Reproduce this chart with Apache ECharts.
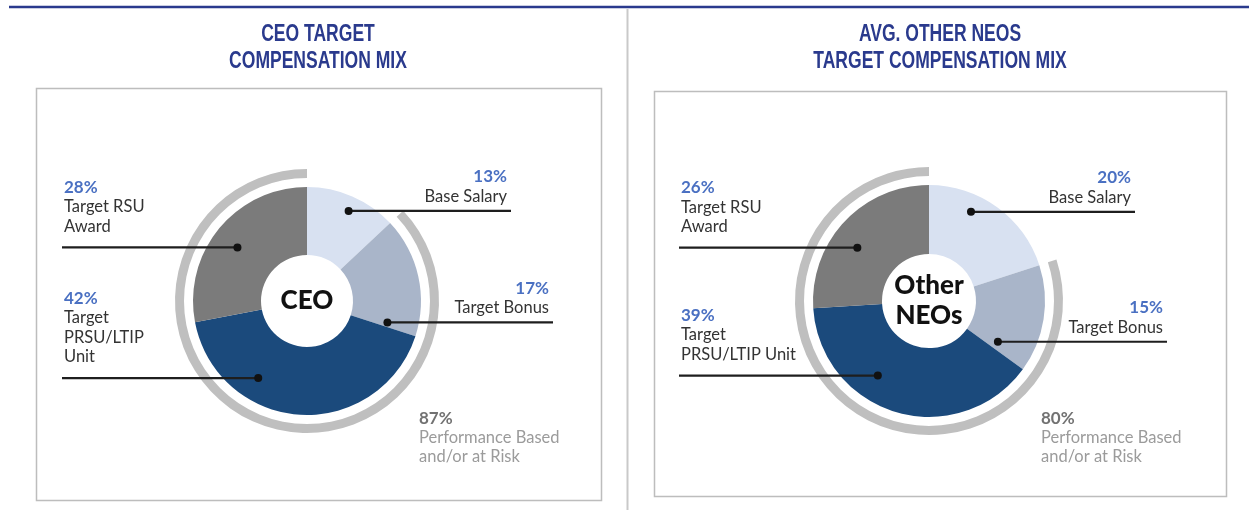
<!DOCTYPE html>
<html>
<head>
<meta charset="utf-8">
<title>Target Compensation Mix</title>
<script src="https://cdn.jsdelivr.net/npm/echarts@6/dist/echarts.min.js"></script>
<style>
  html, body { margin: 0; padding: 0; background: #ffffff; }
  #chart { width: 1249px; height: 510px; }
</style>
</head>
<body>
<div id="chart"></div>
<script>
// ---- data -------------------------------------------------------------
const components = ['Base Salary', 'Target Bonus', 'Target PRSU/LTIP Unit', 'Target RSU Award'];
const ceoMix = [13, 17, 42, 28];          // % of CEO target pay
const neoMix = [20, 15, 39, 26];          // % of average other NEO target pay
const ceoAtRisk = 87;                      // performance based and/or at risk
const neoAtRisk = 80;
// callout wording (line breaks as set in each panel)
const ceoNames = [['Base Salary'], ['Target Bonus'], ['Target', 'PRSU/LTIP', 'Unit'], ['Target RSU', 'Award']];
const neoNames = [['Base Salary'], ['Target Bonus'], ['Target', 'PRSU/LTIP Unit'], ['Target RSU', 'Award']];
const atRiskNames = ['Performance Based', 'and/or at Risk'];
const panelTitles = [['CEO TARGET', 'COMPENSATION MIX'], ['AVG. OTHER NEOS', 'TARGET COMPENSATION MIX']];
const centerLabels = [['CEO'], ['Other', 'NEOs']];

// ---- look -------------------------------------------------------------
const sliceColors = ['#d8e1f1', '#a9b5c9', '#1b4a7c', '#7b7b7b'];
const ringColor = '#bfbfbf';
const navy = '#2a3a8d';
const pctBlue = '#4a70c2';

// pie geometry per panel
const panels = [
  { center: [307, 301], radius: [46, 114], ring: [123, 132], box: [36, 88, 565, 412], titleX: 318 },
  { center: [929, 301], radius: [47, 116], ring: [125, 134], box: [654, 91, 572, 405], titleX: 940 }
];
// callout placement: side of the label, dot position inside the slice
// (fraction along the arc, fraction of the outer radius) and how far the
// leader line runs horizontally from the pie centre
const callouts = [
  [
    { side: 'right', along: 0.53, depth: 0.87, reach: 204 },
    { side: 'right', along: 0.95, depth: 0.73, reach: 246 },
    { side: 'left',  along: 0.69, depth: 0.80, reach: 245 },
    { side: 'left',  along: 0.48, depth: 0.77, reach: 245 }
  ],
  [
    { side: 'right', along: 0.35, depth: 0.85, reach: 206 },
    { side: 'right', along: 0.90, depth: 0.69, reach: 238 },
    { side: 'left',  along: 0.63, depth: 0.78, reach: 250 },
    { side: 'left',  along: 0.43, depth: 0.77, reach: 250 }
  ]
];
const atRiskOffset = [112, 118];

const chart = echarts.init(document.getElementById('chart'), null, { renderer: 'canvas' });

function mixSeries(panel, values) {
  return {
    type: 'pie', silent: true, animation: false,
    center: panel.center, radius: panel.radius,
    startAngle: 90, clockwise: true,
    label: { show: false }, labelLine: { show: false },
    itemStyle: { borderWidth: 0 },
    data: values.map((v, i) => ({ name: components[i], value: v, itemStyle: { color: sliceColors[i] } }))
  };
}
function ringSeries(panel, atRisk) {
  return {
    type: 'pie', silent: true, animation: false,
    center: panel.center, radius: panel.ring,
    startAngle: 90, clockwise: true,
    label: { show: false }, labelLine: { show: false },
    data: [
      { name: 'fixed', value: 100 - atRisk, itemStyle: { color: 'rgba(0,0,0,0)' } },
      { name: 'at risk', value: atRisk, itemStyle: { color: ringColor } }
    ]
  };
}

chart.setOption({
  backgroundColor: '#ffffff',
  animation: false,
  series: [
    mixSeries(panels[0], ceoMix), ringSeries(panels[0], ceoAtRisk),
    mixSeries(panels[1], neoMix), ringSeries(panels[1], neoAtRisk)
  ]
});

// slice geometry as laid out by the pie series
function sliceGeometry(seriesIndex, values, panel) {
  try {
    const data = chart.getModel().getSeriesByIndex(seriesIndex).getData();
    return values.map((v, i) => {
      const l = data.getItemLayout(i);
      return { cx: l.cx, cy: l.cy, r: l.r, a0: l.startAngle, a1: l.endAngle };
    });
  } catch (e) {
    const total = values.reduce((s, v) => s + v, 0);
    let a = -Math.PI / 2;
    return values.map(v => {
      const a0 = a; a += v / total * Math.PI * 2;
      return { cx: panel.center[0], cy: panel.center[1], r: panel.radius[1], a0: a0, a1: a };
    });
  }
}

function text(x, y, str, font, fill, align) {
  return {
    type: 'text', x: x, y: y, z: 20, silent: true,
    style: { text: str, font: font, fill: fill, align: align, textAlign: align,
             verticalAlign: 'middle', textVerticalAlign: 'middle' }
  };
}

const LINE = 19.5;
const PCT_FONT = 'bold 17px Lato, sans-serif';
const NAME_FONT = '16.5px Lato, sans-serif';
const elements = [];

// page furniture
elements.push({ type: 'line', silent: true, z: 1, shape: { x1: 9, y1: 7, x2: 1249, y2: 7 }, style: { stroke: navy, lineWidth: 2.5 } });
elements.push({ type: 'line', silent: true, z: 1, shape: { x1: 627.5, y1: 9, x2: 627.5, y2: 510 }, style: { stroke: '#c9c9c9', lineWidth: 2 } });

[[ceoMix, ceoNames, ceoAtRisk], [neoMix, neoNames, neoAtRisk]].forEach(([values, names, atRisk], p) => {
  const panel = panels[p];
  const b = panel.box;
  elements.push({ type: 'rect', silent: true, z: 0, shape: { x: b[0] + 0.5, y: b[1] + 0.5, width: b[2], height: b[3] },
                  style: { fill: 'none', stroke: '#bdbdbd', lineWidth: 1.5 } });
  panelTitles[p].forEach((t, k) => {
    elements.push({
      type: 'text', x: panel.titleX, y: 34 + k * 27, scaleX: 0.73, z: 20, silent: true,
      style: { text: t, font: 'bold 24px "Liberation Sans", Arial, sans-serif', fill: navy,
               align: 'center', textAlign: 'center', verticalAlign: 'middle', textVerticalAlign: 'middle' }
    });
  });

  const geo = sliceGeometry(p * 2, values, panel);
  const cx = geo[0].cx, cy = geo[0].cy;

  // centre caption
  const cl = centerLabels[p];
  cl.forEach((t, k) => {
    elements.push(text(cx, cy - (cl.length - 1) * 15 + k * 30, t, '900 26px Lato, sans-serif', '#111111', 'center'));
  });

  // callouts
  values.forEach((v, i) => {
    const g = geo[i];
    const c = callouts[p][i];
    const a = g.a0 + (g.a1 - g.a0) * c.along;
    const dx = g.cx + g.r * c.depth * Math.cos(a);
    const dy = g.cy + g.r * c.depth * Math.sin(a);
    const ex = c.side === 'left' ? g.cx - c.reach : g.cx + c.reach;
    elements.push({ type: 'line', silent: true, z: 15, shape: { x1: ex, y1: dy, x2: dx, y2: dy }, style: { stroke: '#1e1e1e', lineWidth: 2.2 } });
    elements.push({ type: 'circle', silent: true, z: 16, shape: { cx: dx, cy: dy, r: 4 }, style: { fill: '#111111' } });
    const lines = [v + '%'].concat(names[i]);
    const tx = c.side === 'left' ? ex + 2 : ex - 4;
    const align = c.side === 'left' ? 'left' : 'right';
    const lastY = dy - (c.side === 'left' ? 21 : 14.5);
    lines.forEach((t, k) => {
      const y = lastY - (lines.length - 1 - k) * LINE;
      if (k === 0) elements.push(text(tx, y, t, PCT_FONT, pctBlue, align));
      else elements.push(text(tx, y, t, NAME_FONT, '#333333', align));
    });
  });

  // performance-based share under the ring
  const ax = cx + atRiskOffset[0], ay = cy + atRiskOffset[1];
  elements.push(text(ax, ay, atRisk + '%', PCT_FONT, '#727272', 'left'));
  atRiskNames.forEach((t, k) => {
    elements.push(text(ax, ay + (k + 1) * 19, t, NAME_FONT, '#9b9b9b', 'left'));
  });
});

chart.setOption({ graphic: { elements: elements } });
</script>
</body>
</html>
